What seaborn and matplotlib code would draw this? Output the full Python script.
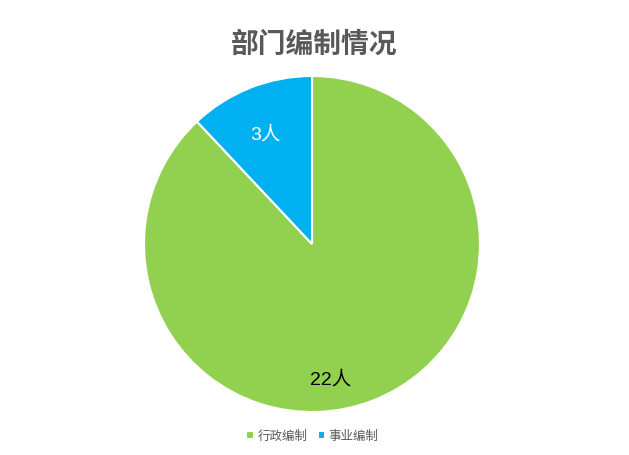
import matplotlib
matplotlib.use("Agg")
import matplotlib.pyplot as plt
import seaborn as sns

categories = ["行政编制", "事业编制"]
values = [22, 3]
labels = ["22人", "3人"]
colors = ["#92D050", "#00B0F0"]

sns.set_theme(style="white")
plt.rcParams['font.family'] = ['Noto Sans CJK SC', 'DejaVu Sans']

fig = plt.figure(figsize=(6.29, 4.55), dpi=100)
ax = fig.add_axes([144 / 629, 43 / 455, 336 / 629, 336 / 455])

wedges, _ = ax.pie(values, colors=colors, startangle=90, counterclock=False,
                   wedgeprops=dict(edgecolor="white", linewidth=1.5))
ax.set_xlim(-1, 1)
ax.set_ylim(-1, 1)
ax.set_aspect("equal")

# data labels (positions tuned to match the reference)
ax.text(0.11, -0.81, labels[0], ha="center", va="center", fontsize=14,
        color="black", family=['Liberation Sans', 'Noto Sans CJK SC'])
ax.text(-0.28, 0.65, labels[1], ha="center", va="center", fontsize=14,
        color="white", family=['Liberation Sans', 'Noto Sans CJK SC'])

fig.text(0.5, 1 - 45 / 455, "部门编制情况", ha="center", va="center",
         fontsize=20, fontweight="bold", color="#595959")

fig.legend(wedges, categories, loc="center", bbox_to_anchor=(0.497, 1 - 436 / 455),
           ncol=2, frameon=False, fontsize=9, handlelength=0.6, handleheight=0.6,
           handletextpad=0.3, columnspacing=0.8, labelcolor="#595959")

fig.savefig("out.png", dpi=100)
